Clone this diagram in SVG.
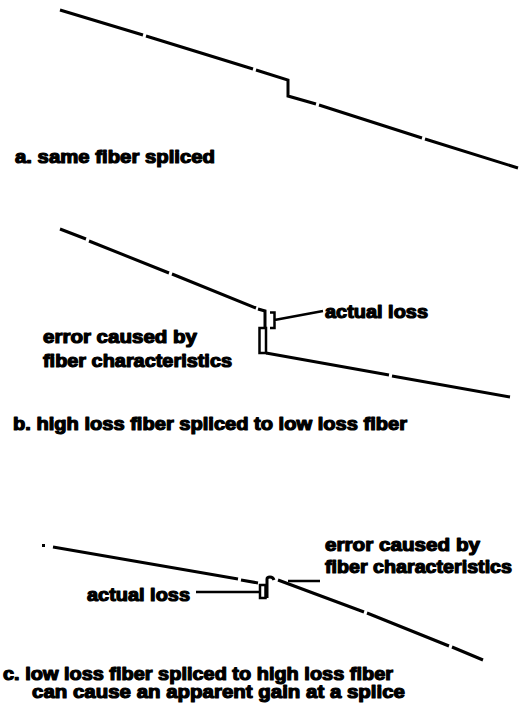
<svg xmlns="http://www.w3.org/2000/svg" width="519" height="714" viewBox="0 0 519 714">
<style>
.ln{fill:none;stroke:#000;stroke-width:3;stroke-linejoin:miter;stroke-linecap:butt}
.tn{fill:none;stroke:#000;stroke-width:2.5}
text{font-family:"Liberation Sans",Arial,sans-serif;font-weight:bold;font-size:18px;fill:#000;stroke:#000;stroke-width:1.2;stroke-linejoin:round}
</style>
<rect width="519" height="714" fill="#fff"/>
<g id="connectors">
<!-- panel a -->
<path class="ln" d="M60,10 L143,35 M146,36 L253,69 M256,70 L288,80 L288,96 L316,104 M319,105 L422,138 M425,139 L518,168"/>
<!-- panel b -->
<path class="ln" d="M60,229 L86,239 M89,241 L169,273 M172,274 L256,308 M258,309 L265,311 L265,328"/>
<rect class="tn" x="259.5" y="328" width="6.5" height="25"/>
<path class="ln" d="M266,353 L389,375 M392,376 L510,397"/>
<path class="tn" d="M270,312.5 L274.5,312.5 L274.5,328 L270,328 M274.5,320 L323,311"/>
<!-- panel c -->
<rect x="42" y="544" width="3" height="3" fill="#000"/>
<path class="ln" d="M53,547 L238,579 M241,580 L258,583"/>
<rect class="tn" x="260" y="585" width="5.5" height="13"/>
<path class="tn" d="M196,592 L260,592"/>
<path class="ln" d="M267,598 L267,579 Q267,577 270,577 Q273,577 274,580"/>
<path class="ln" d="M278,580 L364,612 M367,613 L449,646 M452,647 L483,660"/>
<path class="tn" d="M288,581 L320,581"/>
</g>
<g id="label-a"><text x="15" y="163" textLength="200" lengthAdjust="spacingAndGlyphs">a. same fiber spliced</text></g>
<g id="label-b-actual"><text x="325" y="318" textLength="103" lengthAdjust="spacingAndGlyphs">actual loss</text></g>
<g id="label-b-error">
<text x="43" y="343" textLength="154" lengthAdjust="spacingAndGlyphs">error caused by</text>
<text x="43" y="367" textLength="189" lengthAdjust="spacingAndGlyphs">fiber characteristics</text>
</g>
<g id="label-b"><text x="13" y="430" textLength="394" lengthAdjust="spacingAndGlyphs">b. high loss fiber spliced to low loss fiber</text></g>
<g id="label-c-error">
<text x="325" y="551" textLength="155" lengthAdjust="spacingAndGlyphs">error caused by</text>
<text x="325" y="573" textLength="187" lengthAdjust="spacingAndGlyphs">fiber characteristics</text>
</g>
<g id="label-c-actual"><text x="87" y="601" textLength="103" lengthAdjust="spacingAndGlyphs">actual loss</text></g>
<g id="label-c">
<text x="3" y="680" textLength="390" lengthAdjust="spacingAndGlyphs">c. low loss fiber spliced to high loss fiber</text>
<text x="32" y="698" textLength="373" lengthAdjust="spacingAndGlyphs">can cause an apparent gain at a splice</text>
</g>
</svg>
